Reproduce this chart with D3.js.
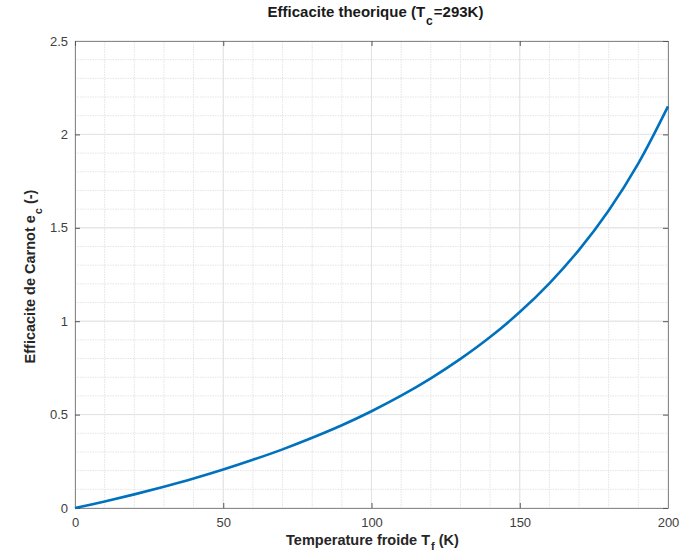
<!DOCTYPE html>
<html>
<head>
<meta charset="utf-8">
<script src="https://cdn.jsdelivr.net/npm/d3@7"></script>
<style>
  body { margin: 0; background: #fff; }
  text { font-family: "Liberation Sans", Arial, sans-serif; }
</style>
</head>
<body>
<div id="chart"></div>
<script>
var width = 693,
  height = 555,
  margin = {top: 41, right: 25, bottom: 47, left: 75};

// Temperature froide (K) and efficacite
var tempFroide = [0, 10, 20, 30, 40, 50, 60, 70, 80, 90, 100, 110, 120, 130, 140, 150, 160, 170, 180, 190, 200];
var efficacite = [0, 0.035, 0.073, 0.114, 0.158, 0.206, 0.258, 0.314, 0.376, 0.443, 0.518, 0.601, 0.694, 0.798, 0.915, 1.049, 1.203, 1.382, 1.593, 1.845, 2.150];
var xTicks = [0, 50, 100, 150, 200];
var yTicks = [0, 0.5, 1, 1.5, 2, 2.5];

var points = tempFroide.map(function (t, i) { return {t: t, e: efficacite[i]}; });

var svg = d3.select("#chart")
  .append("svg")
  .attr("width", width)
  .attr("height", height);

var x = d3.scaleLinear().domain([0, 200]).range([margin.left, width - margin.right]);
var y = d3.scaleLinear().domain([0, 2.5]).range([height - margin.bottom, margin.top]);

// minor grid
svg.append("g").selectAll("line")
  .data(d3.range(0, 201, 10))
  .enter().append("line")
  .attr("x1", function (d) { return x(d); }).attr("x2", function (d) { return x(d); })
  .attr("y1", y(0)).attr("y2", y(2.5))
  .attr("stroke", "#e4e4e4").attr("stroke-dasharray", "1.5,1");
svg.append("g").selectAll("line")
  .data(d3.range(0, 26).map(function (d) { return d / 10; }))
  .enter().append("line")
  .attr("y1", function (d) { return y(d); }).attr("y2", function (d) { return y(d); })
  .attr("x1", x(0)).attr("x2", x(200))
  .attr("stroke", "#e4e4e4").attr("stroke-dasharray", "1.5,1");

// major grid
svg.append("g").selectAll("line")
  .data(xTicks)
  .enter().append("line")
  .attr("x1", function (d) { return x(d); }).attr("x2", function (d) { return x(d); })
  .attr("y1", y(0)).attr("y2", y(2.5))
  .attr("stroke", "#e2e2e2");
svg.append("g").selectAll("line")
  .data(yTicks)
  .enter().append("line")
  .attr("y1", function (d) { return y(d); }).attr("y2", function (d) { return y(d); })
  .attr("x1", x(0)).attr("x2", x(200))
  .attr("stroke", "#e2e2e2");

// axes (ticks inside, box all round)
svg.append("g")
  .attr("transform", "translate(0," + y(0) + ")")
  .call(d3.axisBottom(x).tickValues(xTicks).tickSizeInner(-5).tickSizeOuter(0).tickPadding(10));
svg.append("g")
  .attr("transform", "translate(" + x(0) + ",0)")
  .call(d3.axisLeft(y).tickValues(yTicks).tickSizeInner(-5).tickSizeOuter(0).tickPadding(7)
    .tickFormat(function (d) { return d; }));
svg.append("g")
  .attr("transform", "translate(0," + y(2.5) + ")")
  .call(d3.axisTop(x).tickValues(xTicks).tickSizeInner(-5).tickSizeOuter(0).tickFormat(""));
svg.append("g")
  .attr("transform", "translate(" + x(200) + ",0)")
  .call(d3.axisRight(y).tickValues(yTicks).tickSizeInner(-5).tickSizeOuter(0).tickFormat(""));

svg.selectAll(".domain").attr("stroke", "#8a8a8a");
svg.selectAll(".tick line").attr("stroke", "#555");
svg.selectAll(".tick text")
  .style("font-size", "13px")
  .attr("fill", "#404040");

// curve
svg.append("path")
  .datum(points)
  .attr("fill", "none")
  .attr("stroke", "#0072BD")
  .attr("stroke-width", 2.6)
  .attr("d", d3.line()
    .x(function (d) { return x(d.t); })
    .y(function (d) { return y(d.e); })
    .curve(d3.curveCatmullRom));

// title
var title = svg.append("text")
  .attr("x", (x(0) + x(200)) / 2 + 4)
  .attr("y", 17)
  .attr("text-anchor", "middle")
  .style("font-size", "15px")
  .style("font-weight", "bold")
  .attr("fill", "#1a1a1a");
title.append("tspan").text("Efficacite theorique (T");
title.append("tspan").attr("dx", 1).attr("dy", 8).style("font-size", "12px").text("c");
title.append("tspan").attr("dx", 1).attr("dy", -8).text("=293K)");

// x label
var xl = svg.append("text")
  .attr("x", (x(0) + x(200)) / 2 + 1)
  .attr("y", 545)
  .attr("text-anchor", "middle")
  .style("font-size", "14.5px")
  .style("font-weight", "bold")
  .attr("fill", "#262626");
xl.append("tspan").text("Temperature froide T");
xl.append("tspan").attr("dx", 1).attr("dy", 5).style("font-size", "11px").text("f");
xl.append("tspan").attr("dy", -5).text(" (K)");

// y label
var yl = svg.append("text")
  .attr("transform", "translate(35," + ((y(0) + y(2.5)) / 2 + 2) + ") rotate(-90)")
  .attr("text-anchor", "middle")
  .style("font-size", "14.5px")
  .style("font-weight", "bold")
  .attr("fill", "#262626");
yl.append("tspan").text("Efficacite de Carnot e");
yl.append("tspan").attr("dx", 1).attr("dy", 7).style("font-size", "11px").text("c");
yl.append("tspan").attr("dy", -7).text(" (-)");
</script>
</body>
</html>
